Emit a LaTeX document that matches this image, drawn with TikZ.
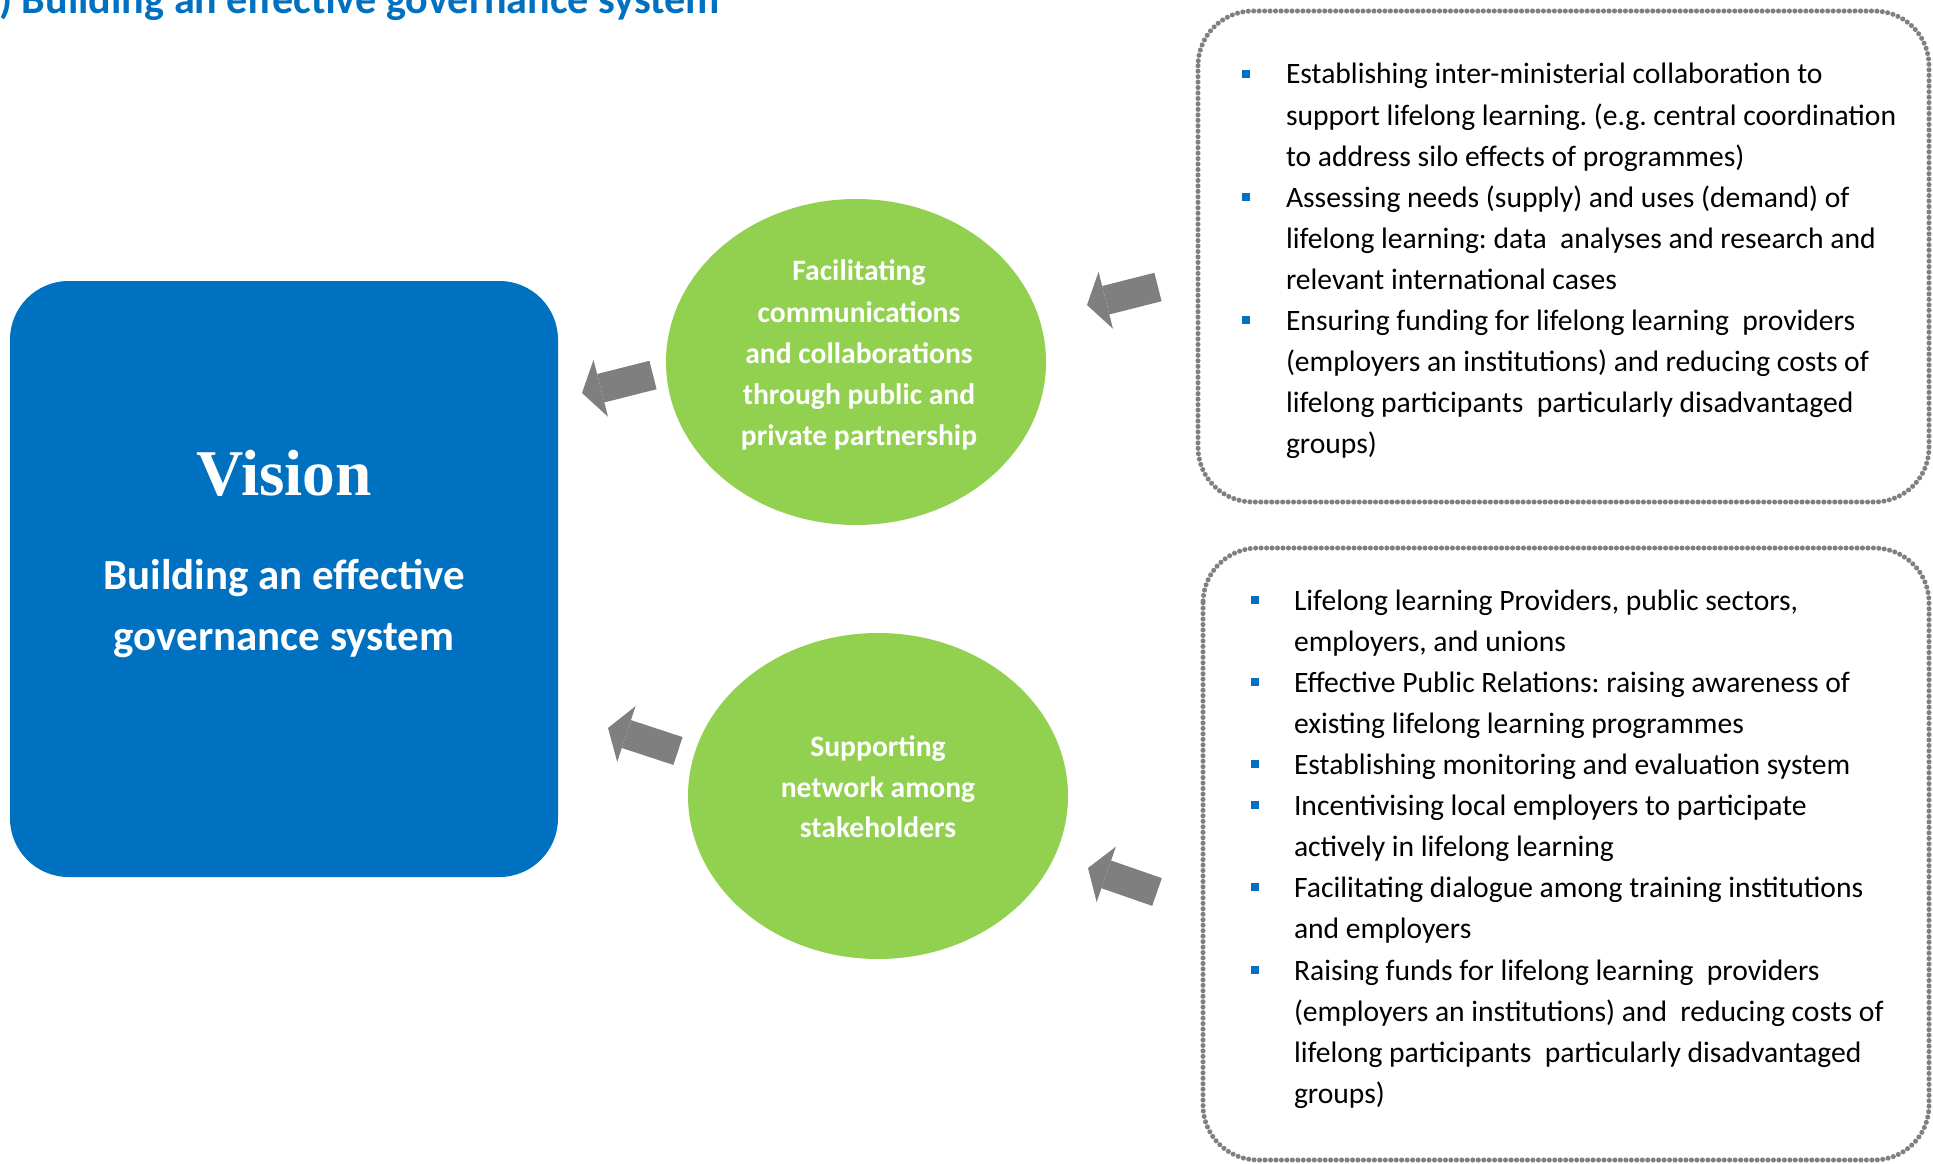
\documentclass[tikz,border=0pt]{standalone}
\usepackage{fontspec}
\setmainfont{Carlito}
\newfontfamily\visionfont{Liberation Serif}
\usetikzlibrary{arrows.meta,shapes.geometric}
\definecolor{vblue}{HTML}{0070C0}
\definecolor{vgreen}{HTML}{92D050}
\definecolor{agray}{HTML}{7F7F7F}
\definecolor{bgray}{HTML}{808080}
\frenchspacing
\begin{document}
\begin{tikzpicture}[x=0.75pt,y=-0.75pt,
  txt/.style={anchor=base west, inner sep=0pt, outer sep=0pt, font=\fontsize{22.2pt}{26pt}\selectfont, text=black},
  ctxt/.style={anchor=base, inner sep=0pt, outer sep=0pt, font=\fontsize{22.2pt}{26pt}\selectfont\bfseries, text=white},
  sq/.style={fill=vblue, inner sep=0pt, minimum size=6.2pt, draw=none},
  dotbox/.style={draw=bgray, line width=3.8pt, dash pattern=on 0pt off 4.1pt, line cap=round, rounded corners=41pt},
  blockarrow/.style={draw=agray, line width=22pt, -{Triangle[length=14.5pt,width=44pt,line width=0pt]}},
  greenell/.style={ellipse, fill=vgreen, inner sep=0pt, minimum width=285pt, minimum height=244.5pt},
  visbox/.style={fill=vblue, rounded corners=44pt, minimum width=411pt, minimum height=447pt, inner sep=0pt}
]
\useasboundingbox (0,0) rectangle (1933,1163);

% title
\node (title) [anchor=base west, inner sep=0pt, text=vblue, font=\fontsize{31.6pt}{36pt}\selectfont\bfseries] at (-1,14) {) Building an effective governance system};

% vision box
\node (vision) [visbox] at (284,579) {};
\node (vis) [anchor=base, inner sep=0pt, text=white, font=\visionfont\fontsize{49pt}{52pt}\selectfont\bfseries] at (284,495) {Vision};
\node (vsub1) [anchor=base, inner sep=0pt, text=white, font=\fontsize{32.2pt}{36pt}\selectfont\bfseries] at (284,589) {Building an effective};
\node (vsub2) [anchor=base, inner sep=0pt, text=white, font=\fontsize{32.2pt}{36pt}\selectfont\bfseries] at (284,650) {governance system};

% green ellipses
\node (e1) [greenell] at (856,362) {};
\node (e2) [greenell] at (878,796) {};
\node (c1l1) [ctxt] at (859,280) {Facilitating};
\node (c1l2) [ctxt] at (859,322) {communications};
\node (c1l3) [ctxt] at (859,363) {and collaborations};
\node (c1l4) [ctxt] at (859,404) {through public and};
\node (c1l5) [ctxt] at (859,445) {private partnership};
\node (c2l1) [ctxt] at (878,756) {Supporting};
\node (c2l2) [ctxt] at (878,797) {network among};
\node (c2l3) [ctxt] at (878,837) {stakeholders};

% dotted boxes
\draw[dotbox] (1198,11) rectangle (1929,502);
\draw[dotbox] (1203,548) rectangle (1929,1160);

% box 1 text
\node (b1s1) [sq] at (1246,74) {};
\node (b1s2) [sq] at (1246,197) {};
\node (b1s3) [sq] at (1246,320) {};
\node (b1l1) [txt] at (1286,84) {Establishing inter-ministerial collaboration to};
\node (b1l2) [txt] at (1286,125) {support lifelong learning. (e.g. central coordination};
\node (b1l3) [txt] at (1286,166) {to address silo effects of programmes)};
\node (b1l4) [txt] at (1286,207) {Assessing needs (supply) and uses (demand) of};
\node (b1l5) [txt] at (1286,248) {lifelong learning: data\ \ analyses and research and};
\node (b1l6) [txt] at (1286,289) {relevant international cases};
\node (b1l7) [txt] at (1286,330) {Ensuring funding for lifelong learning\ \ providers};
\node (b1l8) [txt] at (1286,371) {(employers an institutions) and reducing costs of};
\node (b1l9) [txt] at (1286,412) {lifelong participants\ \ particularly disadvantaged};
\node (b1l10) [txt] at (1286,453) {groups)};

% box 2 text
\node (b2s1) [sq] at (1255,600) {};
\node (b2s2) [sq] at (1255,682) {};
\node (b2s3) [sq] at (1255,764) {};
\node (b2s4) [sq] at (1255,805) {};
\node (b2s5) [sq] at (1255,887) {};
\node (b2s6) [sq] at (1255,970) {};
\node (b2l1) [txt] at (1294,610) {Lifelong learning Providers, public sectors,};
\node (b2l2) [txt] at (1294,651) {employers, and unions};
\node (b2l3) [txt] at (1294,692) {Effective Public Relations: raising awareness of};
\node (b2l4) [txt] at (1294,733) {existing lifelong learning programmes};
\node (b2l5) [txt] at (1294,774) {Establishing monitoring and evaluation system};
\node (b2l6) [txt] at (1294,815) {Incentivising local employers to participate};
\node (b2l7) [txt] at (1294,856) {actively in lifelong learning};
\node (b2l8) [txt] at (1294,897) {Facilitating dialogue among training institutions};
\node (b2l9) [txt] at (1294,938) {and employers};
\node (b2l10) [txt] at (1294,980) {Raising funds for lifelong learning\ \ providers};
\node (b2l11) [txt] at (1294,1021) {(employers an institutions) and\ \ reducing costs of};
\node (b2l12) [txt] at (1294,1062) {lifelong participants\ \ particularly disadvantaged};
\node (b2l13) [txt] at (1294,1103) {groups)};

% block arrows
\coordinate (a1s) at (1158,287);
\coordinate (a1e) at (1087,305);
\coordinate (a2s) at (653,375);
\coordinate (a2e) at (582,393);
\coordinate (a3s) at (678,751);
\coordinate (a3e) at (608,728);
\coordinate (a4s) at (1157,892);
\coordinate (a4e) at (1088,868);
\draw[blockarrow] (a1s) -- (a1e);
\draw[blockarrow] (a2s) -- (a2e);
\draw[blockarrow] (a3s) -- (a3e);
\draw[blockarrow] (a4s) -- (a4e);
\end{tikzpicture}
\end{document}
